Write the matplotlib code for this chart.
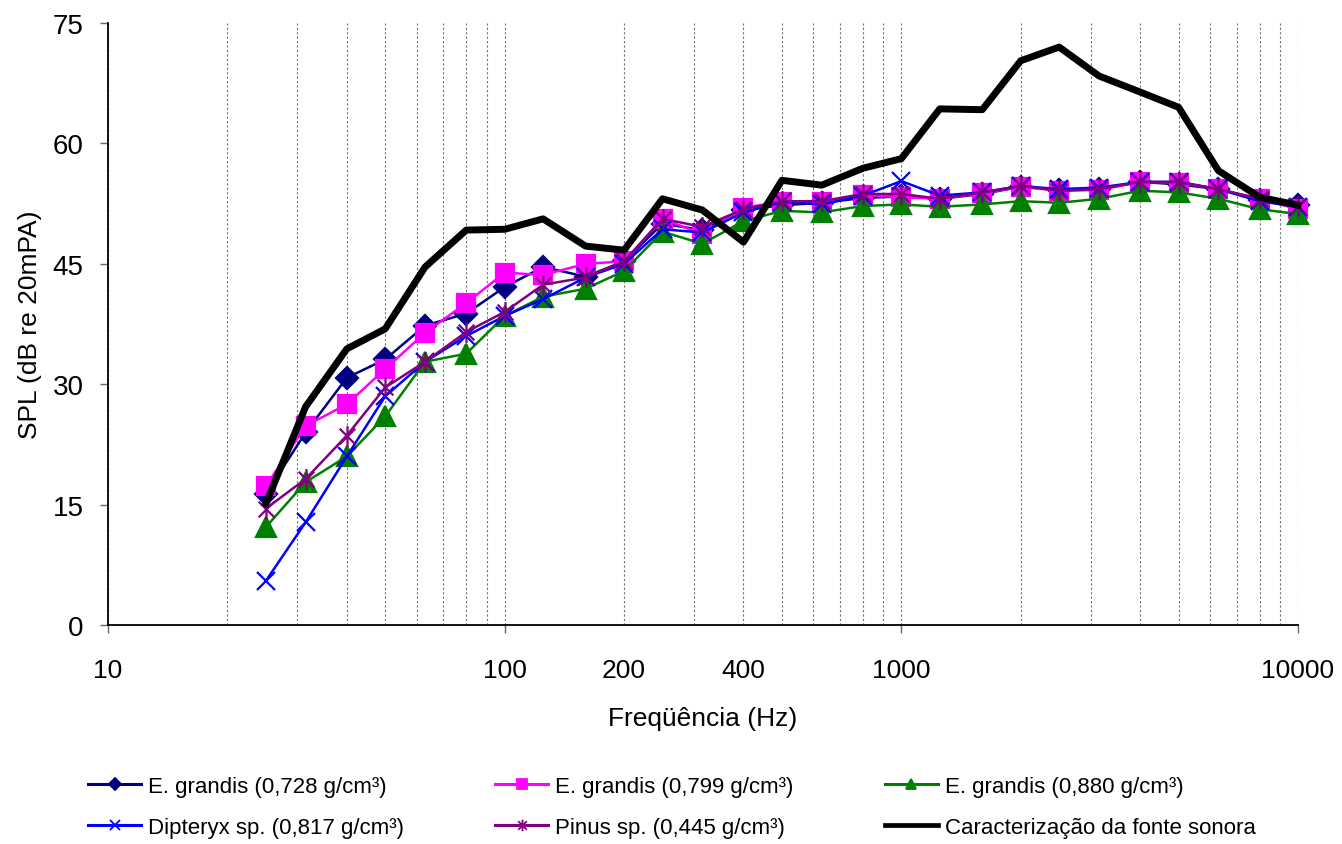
import matplotlib
matplotlib.use("Agg")
import matplotlib.pyplot as plt
from matplotlib.lines import Line2D
from matplotlib.path import Path
from matplotlib.ticker import FixedLocator, FixedFormatter

plt.rcParams['font.family'] = ['Liberation Sans', 'DejaVu Sans']

# 1/3 octave bands (Hz)
freq = [25, 31.5, 40, 50, 63, 80, 100, 125, 160, 200, 250, 315, 400, 500,
        630, 800, 1000, 1250, 1600, 2000, 2500, 3150, 4000, 5000, 6300, 8000, 10000]

grandis_728 = [16.3, 24.0, 30.8, 33.1, 37.3, 38.8, 42.1, 44.6, 43.4, 45.3, 50.0, 49.2, 51.7, 52.3,
               52.6, 53.2, 53.4, 53.1, 53.7, 54.6, 54.2, 54.3, 55.2, 54.9, 54.3, 53.0, 52.3]
grandis_799 = [17.3, 24.8, 27.5, 31.9, 36.4, 40.1, 43.9, 43.6, 45.0, 45.3, 50.6, 48.7, 52.0, 52.7,
               52.7, 53.6, 53.3, 53.1, 53.8, 54.6, 54.1, 54.2, 55.2, 55.1, 54.3, 53.1, 51.8]
grandis_880 = [12.2, 17.8, 21.0, 26.0, 32.8, 33.8, 38.5, 40.9, 41.9, 44.1, 49.0, 47.5, 50.3, 51.6,
               51.4, 52.2, 52.4, 52.1, 52.4, 52.8, 52.6, 53.1, 54.1, 53.9, 53.1, 51.8, 51.2]
dipteryx = [5.5, 12.8, 21.0, 28.5, 32.8, 36.0, 38.5, 40.6, 43.3, 45.0, 49.3, 48.9, 51.4, 52.7,
            52.4, 53.5, 55.3, 53.5, 53.9, 54.7, 54.3, 54.5, 55.2, 55.2, 54.3, 52.8, 52.1]
pinus = [14.5, 18.2, 23.6, 29.6, 32.8, 36.5, 39.0, 42.4, 43.3, 45.3, 50.6, 49.6, 51.8, 52.8,
         52.8, 53.7, 53.7, 53.1, 53.9, 54.7, 54.1, 54.3, 55.2, 55.2, 54.3, 53.1, 52.2]
fonte = [15.1, 27.2, 34.4, 36.9, 44.6, 49.2, 49.3, 50.6, 47.2, 46.7, 53.1, 51.7, 47.7, 55.4,
         54.8, 56.9, 58.1, 64.3, 64.2, 70.3, 72.0, 68.4, 66.4, 64.5, 56.6, 53.3, 52.3]

labels = ['E. grandis (0,728 g/cm³)', 'E. grandis (0,799 g/cm³)', 'E. grandis (0,880 g/cm³)',
          'Dipteryx sp. (0,817 g/cm³)', 'Pinus sp. (0,445 g/cm³)', 'Caracterização da fonte sonora']

# excel style star: an X with a vertical bar
star = Path([(-0.75, -0.75), (0.75, 0.75), (-0.75, 0.75), (0.75, -0.75), (0, -1), (0, 1)],
            [Path.MOVETO, Path.LINETO, Path.MOVETO, Path.LINETO, Path.MOVETO, Path.LINETO])


def main():
    fig = plt.figure(figsize=(13.42, 8.45), dpi=100)
    ax = fig.add_axes([108 / 1342, 1 - 626 / 845, 1190 / 1342, 602 / 845])

    series = [
        (grandis_728, '#000080', 'D', 11, 1.8),
        (grandis_799, '#FF00FF', 's', 13, 1.8),
        (grandis_880, '#008000', '^', 14, 1.8),
        (dipteryx, '#0000FF', 'x', 13, 1.8),
        (pinus, '#800080', star, 15, 1.8),
        (fonte, 'black', None, 0, 5),
    ]
    handles = []
    for (vals, col, mk, ms, lw), lab in zip(series, labels):
        ax.plot(freq, vals, color=col, lw=lw, marker=mk, ms=ms, mew=1.6,
                mec=col, mfc=col, clip_on=False, zorder=3)
        handles.append(Line2D([], [], color=col, lw=2.2 if mk is not None else 3.4,
                              marker=mk, ms=ms * 0.55, mew=1.3, mec=col, mfc=col))

    ax.set_xscale('log')
    ax.set_xlim(10, 10000)
    ax.set_ylim(0, 75)
    ax.set_yticks([0, 15, 30, 45, 60, 75])

    ax.xaxis.set_major_locator(FixedLocator([10, 100, 1000, 10000]))
    ax.xaxis.set_major_formatter(FixedFormatter(['10', '100', '1000', '10000']))
    minors = [m * d for d in (10, 100, 1000) for m in range(2, 10)]
    ax.xaxis.set_minor_locator(FixedLocator(minors))
    ax.xaxis.set_minor_formatter(FixedFormatter(['200' if v == 200 else '400' if v == 400 else ''
                                                 for v in minors]))

    ax.tick_params(axis='x', which='major', length=6, width=1, color='0.4',
                   labelsize=19, pad=18)
    ax.tick_params(axis='x', which='minor', length=0, labelsize=19, pad=24)
    ax.tick_params(axis='y', length=5.5, width=1, color='0.4', labelsize=20, pad=12)

    ax.grid(True, which='both', axis='x', color='0.45', lw=0.8, ls=(0, (2, 2)))
    ax.set_axisbelow(True)
    for s in ('top', 'right'):
        ax.spines[s].set_visible(False)
    for s in ('left', 'bottom'):
        ax.spines[s].set_linewidth(1.3)

    ax.set_xlabel('Freqüência (Hz)', fontsize=19, labelpad=17)
    ax.set_ylabel('SPL (dB re 20mPA)', fontsize=19, labelpad=8)

    # fill the legend row by row, like the original
    order = [0, 3, 1, 4, 2, 5]
    fig.legend([handles[i] for i in order], [labels[i] for i in order], ncol=3,
               loc='upper left', bbox_to_anchor=(68 / 1342, 1 - 757 / 845), frameon=False,
               fontsize=16, handlelength=2.4, handletextpad=0.3,
               columnspacing=4.1, labelspacing=0.9)

    fig.savefig('out.png', dpi=100)


if __name__ == '__main__':
    main()
